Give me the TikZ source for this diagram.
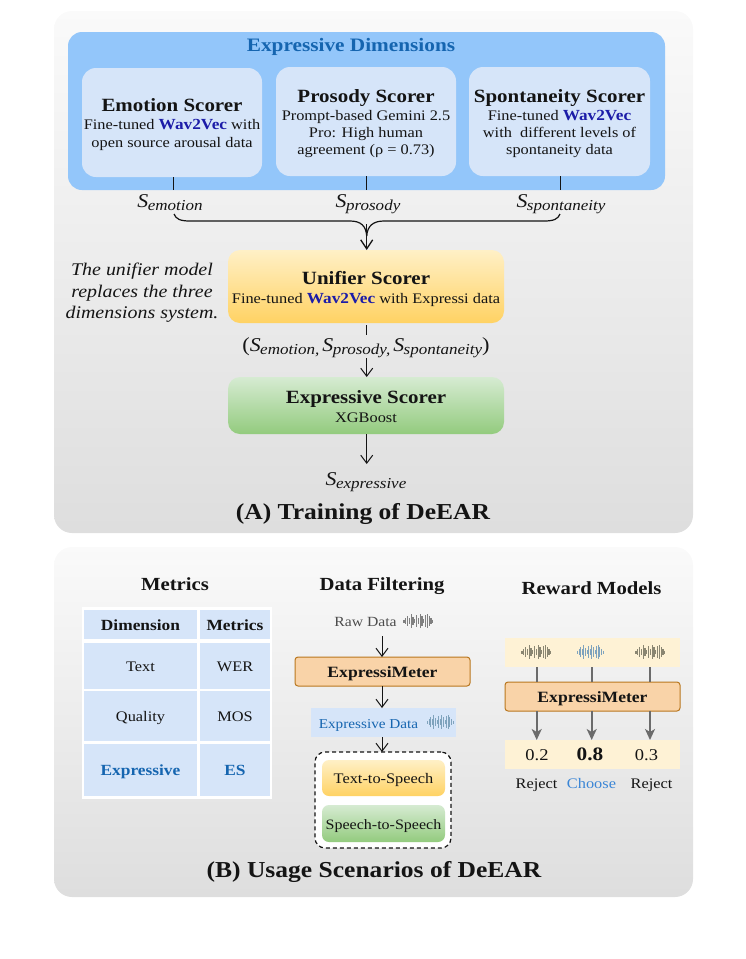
\documentclass[tikz,border=0pt]{standalone}
\usepackage{fontspec}
\usetikzlibrary{arrows.meta}
\setmainfont{Liberation Serif}[FakeStretch=1.12]
\definecolor{ink}{HTML}{141414}
\definecolor{dimblue}{HTML}{1565B0}
\definecolor{wavblue}{HTML}{1C1CA8}
\definecolor{cardblue}{HTML}{D6E5F9}
\definecolor{chooseblue}{HTML}{3B86D6}
\newcommand{\tsize}[2]{\fontsize{#1}{#2}\selectfont}
\newcommand{\subS}[1]{{\itshape\tsize{19.5}{20}S\kern-0.5pt\raisebox{-3.2pt}{\tsize{15.2}{16}#1}}}
\newcommand{\wv}{{\tsize{15.4}{17.2}\bfseries\textcolor{wavblue}{Wav2Vec}}}
\newcommand{\cardtitle}[2][17]{\rule{0pt}{#1pt}{\tsize{18.7}{20}\bfseries #2}}
\newcommand{\wavebars}[4]{% x, y, colour, step
  \foreach \i/\h in {0/1.5,1/3,2/5,3/3,4/7,5/4,6/2,7/6,8/3,9/7,10/5,11/2,12/6,13/7,14/5,15/3,16/1.5}
    \draw[#3,line width=1.1pt] ({#1+\i*#4},{#2-\h}) -- ({#1+\i*#4},{#2+\h});
}
\tikzset{
  x=1pt,y=-1pt,
  every node/.style={inner sep=0pt,outer sep=0pt,text=ink,align=center},
  panel/.style={rounded corners=18pt,minimum width=639pt,top color=black!2,bottom color=black!13},
  card/.style={fill=cardblue,rounded corners=14pt,font=\tsize{14.6}{17.2}},
  gold/.style={rounded corners=#1,top color=gTop,bottom color=gBot},
  gold/.default=12pt,
  leaf/.style={rounded corners=#1,top color=lTop,bottom color=lBot},
  leaf/.default=12pt,
  oneline/.style={text height=11pt,text depth=0pt},
  meter/.style={oneline,fill=mFill,draw=mEdge,line width=1pt,rounded corners=3pt,minimum width=175pt,minimum height=29pt,font=\tsize{15.7}{17}\bfseries},
  band/.style={fill=bandCream,minimum width=175pt,minimum height=29pt},
  cell/.style={oneline,fill=cardblue,font=\tsize{14.6}{17}},
  headcell/.style={oneline,fill=cardblue,font=\tsize{15.5}{17}\bfseries},
  sect/.style={anchor=base,font=\tsize{18.5}{20}\bfseries},
  big/.style={anchor=base,font=\tsize{22.8}{26}\bfseries},
  plain/.style={anchor=base,font=\tsize{14.6}{17}},
  conn/.style={line width=1pt,draw=ink,-{Straight Barb[length=8pt,width=12pt,line width=1pt]}},
  heavyconn/.style={line width=1.3pt,draw=ink,-{Straight Barb[length=9pt,width=12pt,line width=1.3pt]}},
  tick/.style={line width=1pt,draw=ink},
  grayarrow/.style={line width=1.7pt,draw=black!58,-{Stealth[length=11pt,width=10pt,inset=3pt]}},
  grayline/.style={line width=1.7pt,draw=black!58},
}
\definecolor{gTop}{HTML}{FFF0C6}
\definecolor{gBot}{HTML}{FFD263}
\definecolor{lTop}{HTML}{D6EBD2}
\definecolor{lBot}{HTML}{93CB7E}
\definecolor{mFill}{HTML}{F9D3A8}
\definecolor{mEdge}{HTML}{B9771F}
\definecolor{bandCream}{HTML}{FEF2D5}
\definecolor{panelblue}{HTML}{93C6FA}
\definecolor{wavegray}{HTML}{8A8672}
\definecolor{waveblue}{HTML}{7FA3BD}
\begin{document}
\begin{tikzpicture}
\useasboundingbox (0,0) rectangle (745,959);
% panels
\node[panel,minimum height=522pt] (panelA) at (373.5,272) {};
\node[panel,minimum height=350pt] (panelB) at (373.5,722) {};
% expressive dimensions
\node[minimum width=597pt,minimum height=158pt,rounded corners=14pt,fill=panelblue] (blue) at (366.5,111) {};
\node[anchor=base,font=\tsize{19}{20}\bfseries,text=dimblue] (dimtitle) at (351,51) {Expressive Dimensions};
\node[card,minimum width=180pt,minimum height=109pt] (emo) at (172,122.5) {\cardtitle{Emotion Scorer}\\[1pt]Fine-tuned \wv{} with\\open source arousal data};
\node[card,minimum width=180pt,minimum height=109pt] (pro) at (366,121.5) {\cardtitle{Prosody Scorer}\\[1pt]Prompt-based Gemini 2.5\\Pro: High human\\agreement (ρ = 0.73)};
\node[card,minimum width=181pt,minimum height=109pt] (spo) at (559.5,121.5) {\cardtitle{Spontaneity Scorer}\\[1pt]Fine-tuned \wv{}\\with\ \ different levels of\\spontaneity data};
% score labels
\node[anchor=base] (semo) at (170,207) {\subS{emotion}};
\node[anchor=base] (spros) at (368,207) {\subS{prosody}};
\node[anchor=base] (sspo) at (561,207) {\subS{spontaneity}};
\draw[tick] ([xshift=1pt]emo.south) -- ([xshift=1pt]emo.south |- blue.south);
\draw[tick] ([xshift=0.7pt]pro.south) -- ([xshift=0.7pt]pro.south |- blue.south);
\draw[tick] ([xshift=0.5pt]spo.south) -- ([xshift=0.5pt]spo.south |- blue.south);
% brace
\coordinate (braceL) at (174,214);
\coordinate (braceR) at (560,214);
\coordinate (braceTip) at (366.7,236);
\coordinate (braceMid) at (366.7,224);
\draw[line width=1.2pt,draw=ink] (braceL) .. controls (176,219) and (180,221) .. (190,221) -- (350,221) .. controls (361,221) and (366,226) .. (braceTip);
\draw[line width=1.2pt,draw=ink] (braceR) .. controls (558,219) and (554,221) .. (544,221) -- (384,221) .. controls (373,221) and (367.4,226) .. (braceTip);
% note
\node[font=\tsize{17.8}{21.6}\itshape] (note) at (142,293) {The unifier model\\replaces the three\\dimensions system.};
% unifier
\node[gold,minimum width=276pt,minimum height=73pt,font=\tsize{14.6}{18}] (uni) at (366,286.5) {\cardtitle[18.5]{Unifier Scorer}\\[1pt]Fine-tuned \wv{} with Expressi data};
\draw[heavyconn] (braceMid) -- (braceMid |- uni.north);
\node[anchor=base,text height=16.7pt,text depth=6.3pt] (tuple) at (366,351.7) {{\tsize{20}{20}(}\subS{emotion,}\kern3pt\subS{prosody,}\kern3pt\subS{spontaneity}{\tsize{20}{20})}};
\node[leaf,minimum width=276pt,minimum height=57pt,font=\tsize{14.6}{18}] (exp) at (366,405.5) {\cardtitle[14.5]{Expressive Scorer}\\[1pt]XGBoost};
\draw[tick,shorten <=2pt] (braceMid |- uni.south) -- (braceMid |- tuple.north);
\draw[conn] (braceMid |- tuple.south) -- (braceMid |- exp.north);
\node[anchor=base,text height=21pt,text depth=5pt] (sexp) at (366,485) {\subS{expressive}};
\draw[conn] (braceMid |- exp.south) -- (braceMid |- sexp.north);
\node[big] (titleA) at (363,519) {(A) Training of DeEAR};
% metrics
\node[sect] (mtitle) at (175,590) {Metrics};
\node[fill=white,minimum width=190pt,minimum height=192pt] (tbl) at (177,703) {};
\node[headcell,minimum width=113pt,minimum height=29pt] (c11) at (140.5,624.5) {Dimension};
\node[headcell,minimum width=70pt,minimum height=29pt] (c12) at (235,624.5) {Metrics};
\node[cell,minimum width=113pt,minimum height=46pt] (c21) at (140.5,665.5) {Text};
\node[cell,minimum width=70pt,minimum height=46pt] (c22) at (235,665.5) {WER};
\node[cell,minimum width=113pt,minimum height=50pt] (c31) at (140.5,716) {Quality};
\node[cell,minimum width=70pt,minimum height=50pt] (c32) at (235,716) {MOS};
\node[headcell,minimum width=113pt,minimum height=52pt,text=dimblue] (c41) at (140.5,770) {Expressive};
\node[headcell,minimum width=70pt,minimum height=52pt,text=dimblue] (c42) at (235,770) {ES};
% data filtering
\node[sect] (ftitle) at (382,590.5) {Data Filtering};
\node[plain,font=\tsize{14}{17},text=black!70] (raw) at (365.5,626) {Raw Data};
\wavebars{404}{621}{black!50}{1.8}
\coordinate (rawOut) at (382,636);
\node[meter] (fmeter) at (382.5,671.5) {ExpressiMeter};
\draw[conn] (rawOut) -- (rawOut |- fmeter.north);
\node[fill=cardblue,minimum width=145pt,minimum height=29pt] (eband) at (383.5,722.5) {};
\node[plain,font=\tsize{13.6}{17},text=dimblue] (edata) at (368.5,728) {Expressive Data};
\wavebars{427.5}{722}{waveblue}{1.6}
\draw[conn] (fmeter.south -| rawOut) -- (rawOut |- eband.north);
\node[draw=ink,fill=white,dash pattern=on 4pt off 3pt,line width=1.2pt,rounded corners=10pt,minimum width=136pt,minimum height=96pt] (group) at (383,800) {};
\draw[conn] (rawOut |- eband.south) -- (rawOut |- group.north);
\node[gold=7pt,oneline,minimum width=123pt,minimum height=36pt,font=\tsize{14.6}{17}] (tts) at (383.5,778) {Text-to-Speech};
\node[leaf=7pt,oneline,minimum width=123pt,minimum height=37pt,font=\tsize{14.3}{17}] (sts) at (383.5,823.5) {Speech-to-Speech};
% reward
\node[sect] (rtitle) at (591.5,594) {Reward Models};
\node[band] (topband) at (592.5,652.5) {};
\wavebars{522}{652}{wavegray}{1.8}
\wavebars{577.5}{652}{waveblue}{1.6}
\wavebars{636}{652}{wavegray}{1.8}
\node[meter] (rmeter) at (592.5,696.5) {ExpressiMeter};
\node[band] (botband) at (592.5,754.5) {};
\coordinate (x1) at (536.7,667);
\coordinate (x2) at (591.7,667);
\coordinate (x3) at (650,667);
\draw[grayline] (x1) -- (x1 |- rmeter.north);
\draw[grayline] (x2) -- (x2 |- rmeter.north);
\draw[grayline] (x3) -- (x3 |- rmeter.north);
\draw[grayarrow] (x1 |- rmeter.south) -- (x1 |- botband.north);
\draw[grayarrow] (x2 |- rmeter.south) -- (x2 |- botband.north);
\draw[grayarrow] (x3 |- rmeter.south) -- (x3 |- botband.north);
\node[plain,font=\tsize{16.5}{18}] (v1) at (537,760) {0.2};
\node[plain,font=\tsize{19}{20}\bfseries] (v2) at (590,760) {0.8};
\node[plain,font=\tsize{16.5}{18}] (v3) at (646.5,760) {0.3};
\node[plain] (r1) at (536.5,788.5) {Reject};
\node[plain,text=chooseblue] (r2) at (591.5,788.5) {Choose};
\node[plain] (r3) at (651.5,788.5) {Reject};
\node[big] (titleB) at (374,877) {(B) Usage Scenarios of DeEAR};
\end{tikzpicture}
\end{document}
